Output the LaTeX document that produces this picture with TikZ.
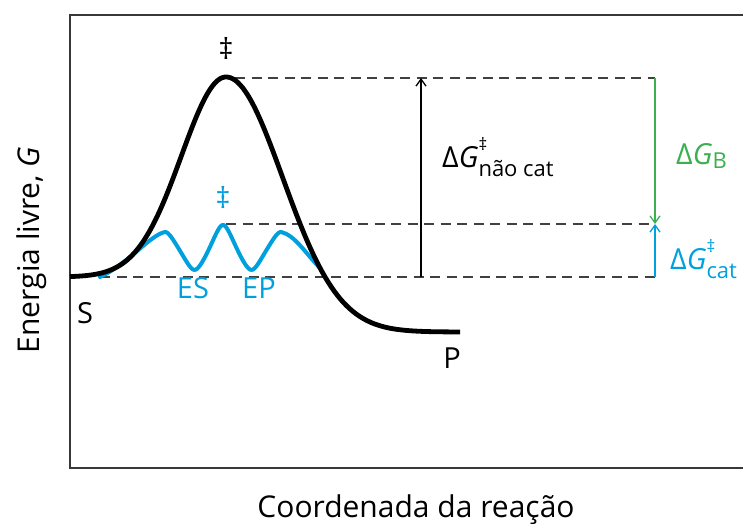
\documentclass[tikz,border=0pt]{standalone}
\usepackage{fontspec}
\setmainfont{Open Sans}
\usetikzlibrary{arrows.meta,positioning}
\definecolor{catblue}{RGB}{0,160,222}
\definecolor{bindgreen}{RGB}{60,175,80}
\newcommand{\bigsz}{\fontsize{29}{32}\selectfont}
\newcommand{\smsz}{\fontsize{22}{24}\selectfont}
\newcommand{\dgsym}[2]{Δ\textit{G}\rlap{\raisebox{17pt}{\fontsize{17}{18}\selectfont #1}}\raisebox{-9pt}{\smsz #2}}
\begin{document}
\begin{tikzpicture}[x=1pt, y=-1pt]

		\tikzstyle{lbl} = [font=\bigsz, inner sep=0pt]
		\tikzstyle{axislbl} = [font=\fontsize{30}{34}\selectfont, inner sep=0pt]
		\tikzstyle{level} = [dash pattern=on 10pt off 6.5pt, line width=1.4pt, draw=black!75]
		\tikzstyle{gap} = [-{Straight Barb[length=7pt,width=10pt]}, line width=1.3pt]
		\tikzstyle{frame} = [line width=1.8pt, draw=black!78]

		\useasboundingbox (0,0) rectangle (743,523);
		\draw[frame] (743,15) -- (70,15) -- (70,468) -- (743,468);

		% energy levels
		\coordinate (ts) at (235,78);
		\coordinate (tscat) at (226,224);
		\coordinate (sub) at (100,277);
		\coordinate (nc_top) at (421,78);
		\coordinate (nc_bot) at (421,277);
		\coordinate (b_top) at (655,78);
		\coordinate (b_mid) at (655,224);
		\coordinate (b_bot) at (655,277);

		\draw[level] (ts) -- (b_top);
		\draw[level] (tscat) -- (b_mid);
		\draw[level] (sub) -- (b_bot);

		% catalysed path
		\draw[catblue, line width=4pt, line join=round, line cap=round] (100,277) .. controls (128,264) and (150,235) .. (165,232)
			-- plot[domain=165:281, samples=120, smooth] (\x, {250-(18+7*exp(-((\x-223)/25)*((\x-223)/25)))*asin(0.85*cos((\x-223)*6.2069))/58.21})
			.. controls (295,235) and (306,254) .. (320,268);
		% uncatalysed path
		\draw[black, line width=4.8pt] plot[domain=70:226, samples=80, smooth] (\x, {277-200*exp(-((\x-226)/63)*((\x-226)/63))})
			-- plot[domain=226:460, samples=100, smooth] (\x, {332-255*exp(-((\x-226)/80)*((\x-226)/80))});

		\draw[gap, black] (nc_bot) -- (nc_top);
		\draw[gap, bindgreen] (b_top) -- (b_mid);
		\draw[gap, catblue] (b_bot) -- (b_mid);

		\node[lbl] (dagger) at (226,48) {‡};
		\node[lbl, catblue] (daggercat) at (223,197) {‡};
		\node[lbl, catblue, anchor=base] (es) at (193,298) {ES};
		\node[lbl, catblue, anchor=base] (ep) at (259,298) {EP};
		\node[lbl, anchor=base] (s) at (85,323) {S};
		\node[lbl, anchor=base] (p) at (452,368) {P};

		\node[lbl, anchor=base west] (dgnc) at (442,167) {\dgsym{‡}{não cat}};
		\node[lbl, anchor=base west, bindgreen] (dgb) at (676,164) {Δ\textit{G}\raisebox{-4pt}{\smsz B}};
		\node[lbl, anchor=base west, catblue] (dgcat) at (670,269) {\dgsym{‡}{cat}};

		\node[axislbl, anchor=base, rotate=90] (ylab) at (39,250) {Energia livre, \textit{G}};
		\node[axislbl, anchor=base] (xlab) at (416,517) {Coordenada da reação};

	\end{tikzpicture}
\end{document}
